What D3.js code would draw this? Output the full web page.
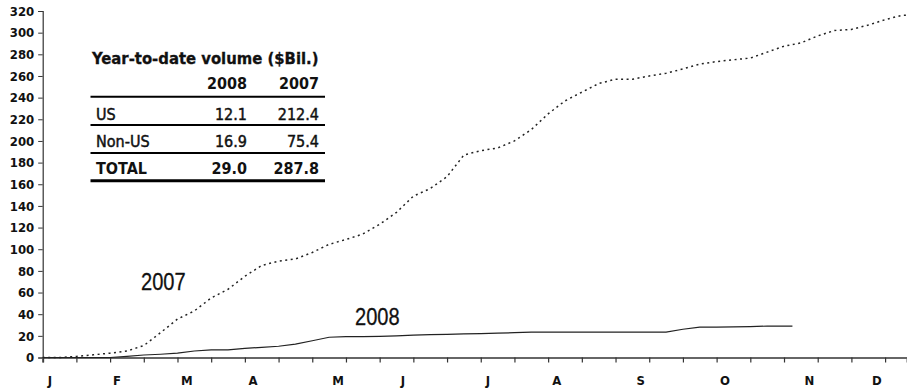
<!DOCTYPE html>
<html>
<head>
<meta charset="utf-8">
<script src="https://cdn.jsdelivr.net/npm/d3@7/dist/d3.min.js"></script>
<style>
    body { margin: 0; background: #fff; }
    svg text { font-family: "Liberation Sans Narrow", "Arial Narrow", "DejaVu Sans Condensed", sans-serif; fill: #111; }
</style>
</head>
<body>
<svg id="chart" width="907" height="388"></svg>
<script>
// cumulative volume by week of year ($Bil.)
var vol2007 = [0, 0, 1, 2.5, 4, 6, 11, 23, 35.5, 43,
    55, 63, 75, 85, 89, 91, 97, 104.5, 109, 114,
    123, 134, 149, 156, 167, 187, 191, 193.5, 200, 210.5,
    225, 237, 245, 253, 257, 257, 260, 262.5, 266.5, 271,
    273.3, 275, 276.5, 282, 287.5, 290.5, 297, 302, 303, 307,
    312, 316];
var end2007 = [51.3, 316];

var vol2008 = [0, 0, 0, 0, 0, 1, 2.3, 3, 4, 6,
    7, 7, 8.5, 9.3, 10.4, 12.3, 15.5, 18.7, 19.2, 19.3,
    19.6, 20, 20.6, 21.1, 21.4, 21.8, 22.1, 22.5, 22.9, 23.4,
    23.5, 23.5, 23.5, 23.5, 23.5, 23.5, 23.5, 23.5, 26.1, 28,
    28, 28.2, 28.6, 29, 29];
var end2008 = [44.5, 29];

var yTicks = d3.range(0, 321, 20);
var xTicks = d3.range(0, 51, 2);   // a tick every two weeks
var monthNames = ['J', 'F', 'M', 'A', 'M', 'J', 'J', 'A', 'S', 'O', 'N', 'D'];
var monthWeeks = [0.43, 4.41, 8.56, 12.48, 17.53, 21.38, 26.43, 30.52, 35.5, 40.5, 45.5, 49.51];

var tableTitle = 'Year-to-date volume ($Bil.)';
var tableCols = ['2008', '2007'];
var tableRows = ['US', 'Non-US', 'TOTAL'];
var table2008 = ['12.1', '16.9', '29.0'];
var table2007 = ['212.4', '75.4', '287.8'];

var svg = d3.select('#chart');

var x = d3.scaleLinear().domain([0, 51.3]).range([42.7, 907]);
var y = d3.scaleLinear().domain([0, 320]).range([357.5, 11]);

// y axis
var yAxis = svg.append('g')
    .attr('transform', 'translate(' + x(0) + ',0)')
    .call(d3.axisLeft(y).tickValues(yTicks).tickSize(4.5).tickPadding(4));
yAxis.select('.domain').attr('stroke', '#333').attr('stroke-width', 1.2);
yAxis.selectAll('.tick line').attr('stroke', '#333');
yAxis.selectAll('.tick text')
    .style('font-size', '13px')
    .style('font-weight', 'bold')
    .attr('fill', '#111');

// x axis
var xAxis = svg.append('g')
    .attr('transform', 'translate(0,' + y(0) + ')')
    .call(d3.axisBottom(x).tickValues(xTicks).tickSize(5).tickFormat(''));
xAxis.select('.domain').attr('stroke', '#666').attr('stroke-width', 2);
xAxis.selectAll('.tick line').attr('stroke', '#333').attr('stroke-width', 1.2);

svg.append('g')
    .selectAll('text')
    .data(monthNames)
    .enter().append('text')
        .attr('x', (d, i) => x(monthWeeks[i]))
        .attr('y', 385)
        .attr('text-anchor', 'middle')
        .style('font-size', '13px')
        .style('font-weight', 'bold')
        .text(d => d);

// series
var line = d3.line()
    .x(d => x(d[0]))
    .y(d => y(d[1]));

var pts2007 = vol2007.map((v, i) => [i, v]).concat([end2007]);
var pts2008 = vol2008.map((v, i) => [i, v]).concat([end2008]);

svg.append('path')
    .datum(pts2007)
    .attr('d', line)
    .attr('fill', 'none')
    .attr('stroke', '#222')
    .attr('stroke-width', 1.5)
    .attr('stroke-dasharray', '2,3.5');

svg.append('path')
    .datum(pts2008)
    .attr('d', line)
    .attr('fill', 'none')
    .attr('stroke', '#222')
    .attr('stroke-width', 1.2);

// series labels, helvetica-ish squeezed a bit
[['2007', 141, 289.5], ['2008', 355, 324.5]].forEach(function (l) {
    svg.append('text')
        .attr('transform', 'translate(' + l[1] + ',' + l[2] + ') scale(0.82,1)')
        .style('font-family', '"Liberation Sans", Arial, sans-serif')
        .style('font-size', '24.5px')
        .attr('stroke', '#111')
        .attr('stroke-width', 0.3)
        .text(l[0]);
});

// table
var tbl = svg.append('g');
var colRight = [247, 319];
var rowBase = [119.5, 146.5, 173.5];
var rules = [[96.7, 2], [125, 1.8], [153, 1.8], [180.7, 3]];

tbl.append('text')
    .attr('x', 92).attr('y', 64)
    .style('font-size', '16.5px')
    .style('font-weight', 'bold')
    .attr('stroke', '#111')
    .attr('stroke-width', 0.3)
    .text(tableTitle);

tbl.selectAll('text.col')
    .data(tableCols)
    .enter().append('text')
        .attr('class', 'col')
        .attr('x', (d, i) => colRight[i])
        .attr('y', 89)
        .attr('text-anchor', 'end')
        .style('font-size', '16px')
        .style('font-weight', 'bold')
        .text(d => d);

tbl.selectAll('line')
    .data(rules)
    .enter().append('line')
        .attr('x1', 90.5).attr('x2', 325)
        .attr('y1', d => d[0]).attr('y2', d => d[0])
        .attr('stroke', '#000')
        .attr('stroke-width', d => d[1]);

tableRows.forEach(function (r, i) {
    var bold = r == 'TOTAL';
    var cells = [[r, 96, 'start'], [table2008[i], colRight[0], 'end'], [table2007[i], colRight[1], 'end']];
    cells.forEach(function (c) {
        tbl.append('text')
            .attr('x', c[1]).attr('y', rowBase[i])
            .attr('text-anchor', c[2])
            .style('font-size', '16px')
            .style('font-weight', bold ? 'bold' : 'normal')
            .attr('stroke', bold ? 'none' : '#111')
            .attr('stroke-width', 0.45)
            .text(c[0]);
    });
});
</script>
</body>
</html>
